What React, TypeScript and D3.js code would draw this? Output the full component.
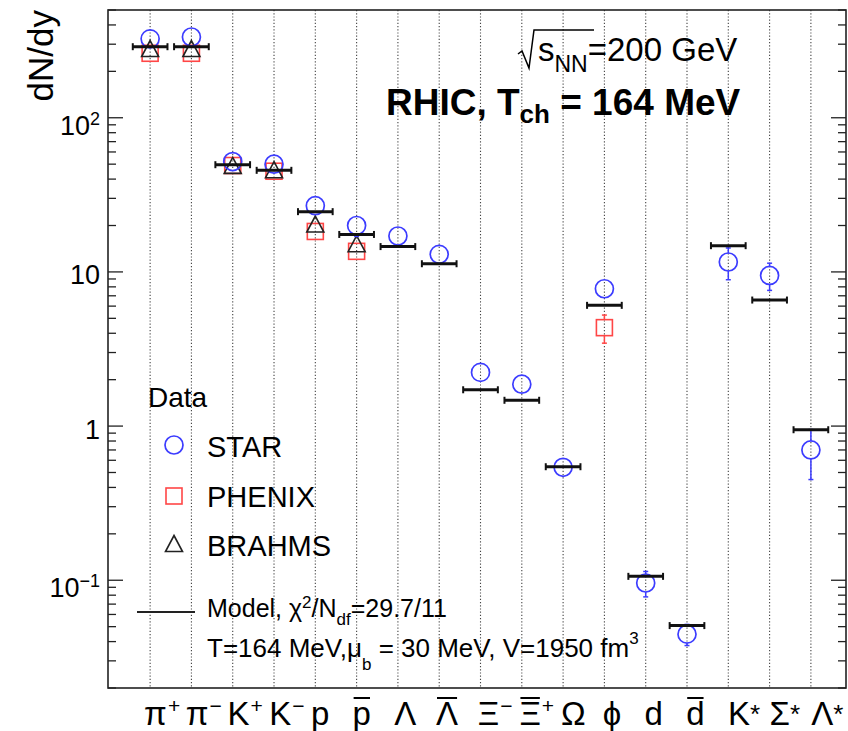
import React, { useEffect, useRef } from "react";
import * as d3 from "d3";

const W = 848;
const H = 731;
const FONT = "'Liberation Sans', Arial, Helvetica, sans-serif";

// Particle species along the x axis
const labelBase = ["π", "π", "K", "K", "p", "p", "Λ", "Λ", "Ξ", "Ξ", "Ω", "ϕ", "d", "d", "K", "Σ", "Λ"];
const labelSup = ["+", "−", "+", "−", "", "", "", "", "−", "+", "", "", "", "", "*", "*", "*"];
const labelBar = [false, false, false, false, false, true, false, true, false, true, false, false, false, true, false, false, false];

// Thermal model yields (dN/dy)
const modelYield = [289, 289, 49.6, 45.6, 24.6, 17.5, 14.6, 11.3, 1.72, 1.47, 0.545, 6.07, 0.106, 0.0508, 14.8, 6.57, 0.947];

// STAR measurements
const starYield = [325, 334, 52, 50, 26.9, 20.0, 17.1, 13.0, 2.23, 1.87, 0.54, 7.78, 0.096, 0.0447, 11.6, 9.49, 0.7];
const starErr = [10, 10, 2.5, 2.5, 3, 3, 1.2, 1.0, 0.15, 0.12, 0.03, 0.7, 0.018, 0.007, 2.7, 1.9, 0.25];

// PHENIX measurements
const phenixYield = [262, 262, 49, 45, 18.3, 13.6, null, null, null, null, null, 4.35, null, null, null, null, null];
const phenixErr = [15, 15, 2.5, 2.5, 1.5, 1.2, 0, 0, 0, 0, 0, 0.9, 0, 0, 0, 0, 0];

// BRAHMS measurements
const brahmsYield = [275, 275, 48, 45, 20, 14.9, null, null, null, null, null, null, null, null, null, null, null];
const brahmsErr = [14, 14, 2, 2, 1.5, 1.2, 0, 0, 0, 0, 0, 0, 0, 0, 0, 0, 0];

// Decade labels of the log axis
const majorTicks = [0.1, 1, 10, 100];
const majorTickBase = ["10", "1", "10", "10"];
const majorTickExp = ["−1", "", "", "2"];

const legendNames = ["STAR", "PHENIX", "BRAHMS"];

type Part = [string, "n" | "sup" | "sub"];

function rich(
  sel: any,
  x: number,
  y: number,
  parts: Part[],
  size: number,
  small: number,
  supDy: number,
  subDy: number,
  anchor = "start",
  weight = "normal"
) {
  const t = sel
    .append("text")
    .attr("x", x)
    .attr("y", y)
    .attr("font-size", size)
    .attr("font-weight", weight)
    .attr("text-anchor", anchor)
    .attr("fill", "#000");
  let cur = 0;
  for (const [s, k] of parts) {
    const target = k === "sup" ? supDy : k === "sub" ? subDy : 0;
    t.append("tspan")
      .attr("dy", target - cur)
      .attr("font-size", k === "n" ? size : small)
      .text(s);
    cur = target;
  }
  return t;
}

export default function App() {
  const ref = useRef<SVGSVGElement>(null);

  useEffect(() => {
    const svg = d3.select(ref.current);
    svg.selectAll("*").remove();
    svg.attr("font-family", FONT);

    const left = 108, right = 846, top = 10, bottom = 688;
    const x = d3.scaleLinear().domain([-1.02, 16.85]).range([left, right]);
    const y = d3.scaleLog().domain([0.02, 500]).range([bottom, top]);
    const idx = d3.range(labelBase.length);
    const step = x(1) - x(0);

    svg.append("rect").attr("width", W).attr("height", H).attr("fill", "#fff");

    // dotted guide per species
    svg.append("g")
      .selectAll("line")
      .data(idx)
      .join("line")
      .attr("x1", (i) => x(i))
      .attr("x2", (i) => x(i))
      .attr("y1", top)
      .attr("y2", bottom)
      .attr("stroke", "#444")
      .attr("stroke-width", 1.1)
      .attr("stroke-dasharray", "1.2 2");

    // log-axis ticks on both sides
    const minor: number[] = [];
    [0.01, 0.1, 1, 10, 100].forEach((dec) => {
      for (let k = 2; k <= 9; k++) {
        const v = dec * k;
        if (v >= 0.02 && v <= 500) minor.push(v);
      }
    });
    const tg = svg.append("g").attr("stroke", "#222").attr("stroke-width", 1.3);
    minor.forEach((v) => {
      tg.append("line").attr("x1", left).attr("x2", left + 8).attr("y1", y(v)).attr("y2", y(v));
      tg.append("line").attr("x1", right).attr("x2", right - 8).attr("y1", y(v)).attr("y2", y(v));
    });
    majorTicks.forEach((v) => {
      tg.append("line").attr("x1", left).attr("x2", left + 15).attr("y1", y(v)).attr("y2", y(v));
      tg.append("line").attr("x1", right).attr("x2", right - 15).attr("y1", y(v)).attr("y2", y(v));
    });

    // tick labels
    majorTicks.forEach((v, i) => {
      const exp = majorTickExp[i];
      const parts: Part[] = [[majorTickBase[i], "n"]];
      if (exp) parts.push([exp, "sup"]);
      rich(svg, 100, y(v) + (exp ? 17 : 12.5), parts, 27, 18, -10, 0, "end");
    });

    // frame
    svg.append("rect")
      .attr("x", left)
      .attr("y", top)
      .attr("width", right - left)
      .attr("height", bottom - top)
      .attr("fill", "none")
      .attr("stroke", "#222")
      .attr("stroke-width", 1.6);

    // axis title
    svg.append("text")
      .attr("transform", `translate(53,${top}) rotate(-90)`)
      .attr("text-anchor", "end")
      .attr("font-size", 35)
      .text("dN/dy");

    // species labels
    idx.forEach((i) => {
      const lx = x(i) - 6 + 0.4 * i;
      const base = svg.append("text")
        .attr("x", lx)
        .attr("y", 725)
        .attr("font-size", 33)
        .text(labelBase[i]);
      const bb = (base.node() as SVGTextElement).getBBox();
      if (labelBar[i]) {
        svg.append("line")
          .attr("x1", bb.x + 1)
          .attr("x2", bb.x + bb.width - 1)
          .attr("y1", 698)
          .attr("y2", 698)
          .attr("stroke", "#000")
          .attr("stroke-width", 2);
      }
      const sup = labelSup[i];
      if (sup) {
        const star = sup === "*";
        svg.append("text")
          .attr("x", bb.x + bb.width + (star ? 0 : 1))
          .attr("y", star ? 723 : 713)
          .attr("font-size", star ? 26 : 21)
          .text(sup);
      }
    });

    // data error bars (outside the marker) and markers
    const errBar = (g: any, cx: number, v: number, e: number, gap: number, color: string) => {
      const yt = y(v + e), yb = y(Math.max(v - e, 0.021)), yc = y(v);
      if (yc - gap - yt > 0.5) {
        g.append("line").attr("x1", cx).attr("x2", cx).attr("y1", yt).attr("y2", yc - gap).attr("stroke", color).attr("stroke-width", 1.5);
        g.append("line").attr("x1", cx - 2.5).attr("x2", cx + 2.5).attr("y1", yt).attr("y2", yt).attr("stroke", color).attr("stroke-width", 1.5);
      }
      if (yb - (yc + gap) > 0.5) {
        g.append("line").attr("x1", cx).attr("x2", cx).attr("y1", yc + gap).attr("y2", yb).attr("stroke", color).attr("stroke-width", 1.5);
        g.append("line").attr("x1", cx - 2.5).attr("x2", cx + 2.5).attr("y1", yb).attr("y2", yb).attr("stroke", color).attr("stroke-width", 1.5);
      }
    };

    const STAR_C = "#3c3cff";
    const PHENIX_C = "#ff4646";
    const BRAHMS_C = "#222";

    const drawCircle = (g: any, cx: number, cy: number) =>
      g.append("circle").attr("cx", cx).attr("cy", cy).attr("r", 9).attr("fill", "none").attr("stroke", STAR_C).attr("stroke-width", 1.7);
    const drawSquare = (g: any, cx: number, cy: number) =>
      g.append("rect").attr("x", cx - 8).attr("y", cy - 8).attr("width", 16).attr("height", 16).attr("fill", "none").attr("stroke", PHENIX_C).attr("stroke-width", 1.6);
    const drawTriangle = (g: any, cx: number, cy: number) =>
      g.append("path")
        .attr("d", `M${cx},${cy - 9.5}L${cx + 8.5},${cy + 6.5}L${cx - 8.5},${cy + 6.5}Z`)
        .attr("fill", "none")
        .attr("stroke", BRAHMS_C)
        .attr("stroke-width", 1.6);

    const dg = svg.append("g");
    idx.forEach((i) => {
      const cx = x(i);
      const pv = phenixYield[i];
      if (pv != null) {
        errBar(dg, cx, pv, phenixErr[i], 8, PHENIX_C);
        drawSquare(dg, cx, y(pv));
      }
      const bv = brahmsYield[i];
      if (bv != null) {
        errBar(dg, cx, bv, brahmsErr[i], 8, BRAHMS_C);
        drawTriangle(dg, cx, y(bv));
      }
      errBar(dg, cx, starYield[i], starErr[i], 9, STAR_C);
      drawCircle(dg, cx, y(starYield[i]));
    });

    // model values as horizontal bars with end caps
    const mg = svg.append("g").attr("stroke", "#111");
    idx.forEach((i) => {
      const x0 = x(i) - 0.42 * step, x1 = x(i) + 0.42 * step, yy = y(modelYield[i]);
      mg.append("line").attr("x1", x0).attr("x2", x1).attr("y1", yy).attr("y2", yy).attr("stroke-width", 3);
      mg.append("line").attr("x1", x0).attr("x2", x0).attr("y1", yy - 3.5).attr("y2", yy + 3.5).attr("stroke-width", 2);
      mg.append("line").attr("x1", x1).attr("x2", x1).attr("y1", yy - 3.5).attr("y2", yy + 3.5).attr("stroke-width", 2);
    });

    // legend
    svg.append("text").attr("x", 148).attr("y", 407).attr("font-size", 28).text("Data");
    const legY = [457, 507, 556];
    legendNames.forEach((name, k) => {
      const cy = legY[k] - 12;
      if (k === 0) drawCircle(svg, 174, cy);
      if (k === 1) drawSquare(svg, 174, cy + 1);
      if (k === 2) drawTriangle(svg, 174, cy + 1);
      svg.append("text").attr("x", 207).attr("y", legY[k]).attr("font-size", 29).text(name);
    });

    svg.append("line").attr("x1", 137).attr("x2", 195).attr("y1", 612).attr("y2", 612).attr("stroke", "#222").attr("stroke-width", 2);
    rich(svg, 207, 617,
      [["Model, χ", "n"], ["2", "sup"], ["/N", "n"], ["df", "sub"], ["=29.7/11", "n"]],
      25, 17, -9, 8);
    rich(svg, 207, 657,
      [["T=164 MeV,μ", "n"], ["b", "sub"], [" = 30 MeV, V=1950 fm", "n"], ["3", "sup"]],
      26, 17, -13, 13);

    // collision energy
    svg.append("path")
      .attr("d", "M518,54L522,51L529,68L534,30L594,30")
      .attr("fill", "none")
      .attr("stroke", "#000")
      .attr("stroke-width", 1.5);
    rich(svg, 538, 61,
      [["s", "n"], ["NN", "sub"], ["=200 GeV", "n"]],
      33, 23, 0, 11);

    rich(svg, 386, 115,
      [["RHIC, T", "n"], ["ch", "sub"], [" = 164 MeV", "n"]],
      37, 26, 0, 8, "start", "bold");
  }, []);

  return (
    <svg
      ref={ref}
      width={W}
      height={H}
      style={{ position: "absolute", left: 0, top: 0, display: "block" }}
    />
  );
}
